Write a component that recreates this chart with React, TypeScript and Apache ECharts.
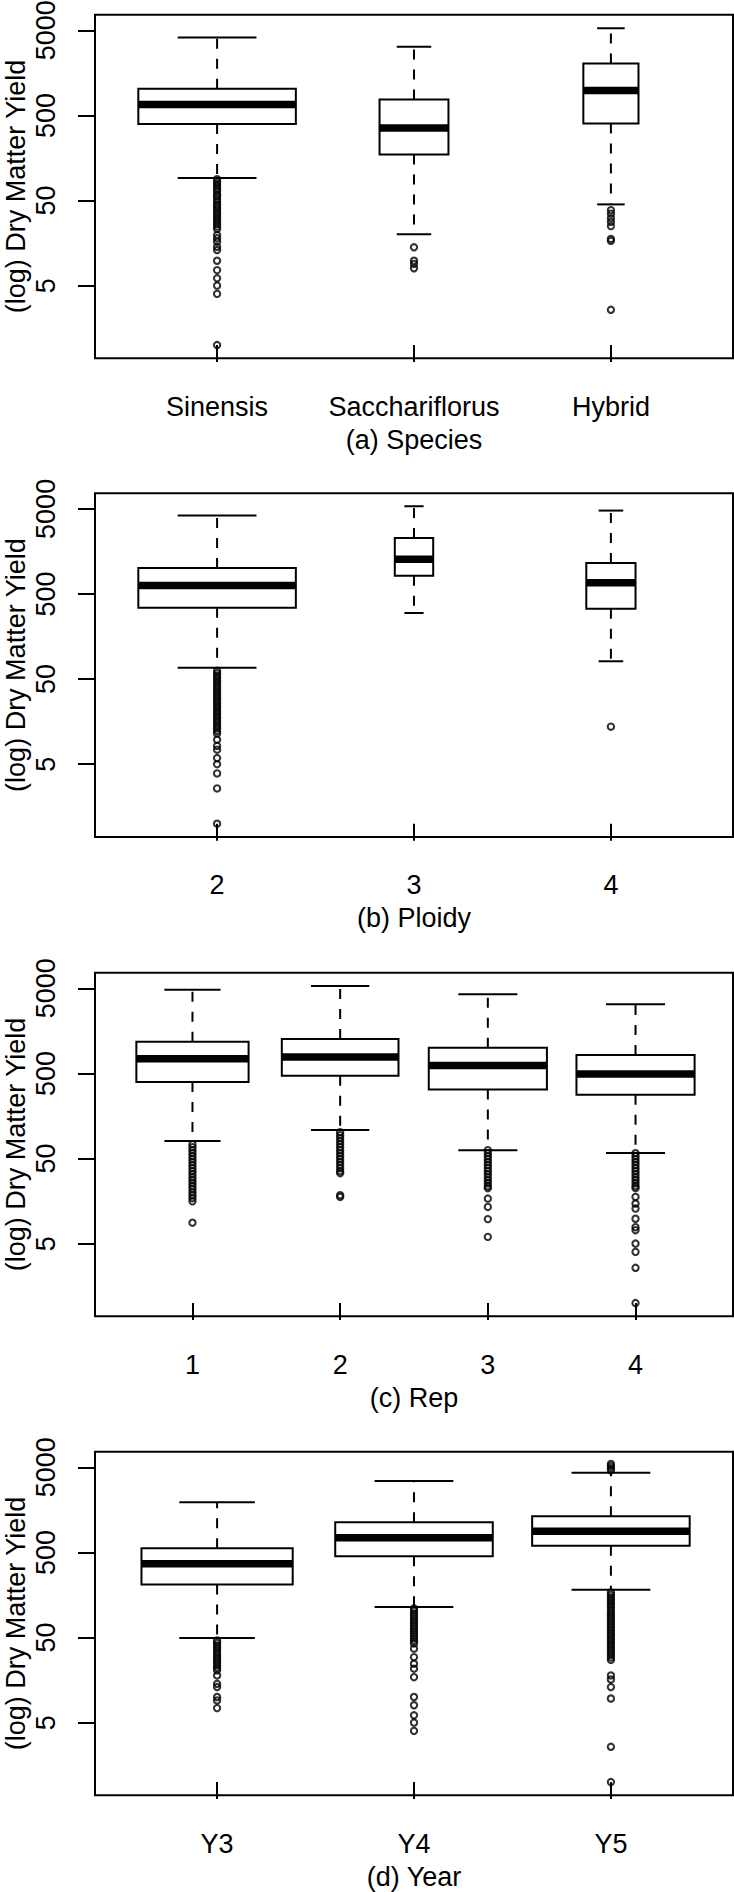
import React, { useEffect, useRef } from "react";
import * as echarts from "echarts";

// ---------- data (Dry Matter Yield, raw units) ----------
// stats per group: [lower whisker, Q1, median, Q3, upper whisker]
const speciesCategories = ["Sinensis", "Sacchariflorus", "Hybrid"];
const speciesStats = [
  [92, 395, 670, 1030, 4100],
  [20, 174, 356, 770, 3200],
  [45, 402, 980, 2030, 5280],
];
const speciesBoxWidths = [0.8, 0.35, 0.28];
const speciesOutliers = [
  [89, 83, 78, 73, 68, 64, 59, 56, 52, 48.5, 45, 42.4, 39.6, 37, 34.6, 32.4, 30.3, 28.3, 26.4, 24.7, 23.1, 19.6, 18, 16.4, 14.3, 13.1, 9.8, 7.6, 6.1, 5.0, 4.0, 1.0],
  [14.1, 9.8, 9.0, 8.0],
  [38.5, 35, 31, 28, 25, 17.7, 16.8, 2.6],
];

const ploidyCategories = ["2", "3", "4"];
const ploidyStats = [
  [68, 345, 631, 1010, 4170],
  [299, 820, 1276, 2280, 5370],
  [81, 336, 679, 1158, 4775],
];
const ploidyBoxWidths = [0.8, 0.195, 0.25];
const ploidyOutliers = [
  [62.6, 58.5, 54.7, 51.1, 47.8, 44.6, 41.7, 39, 36.4, 34, 31.8, 29.7, 27.8, 26, 24.3, 22.7, 21.2, 19.8, 18.5, 17.3, 16.2, 15.1, 14.1, 13.2, 12.3, 11.5, 9.7, 8.2, 7.4, 5.9, 5.0, 3.9, 2.6, 1.0],
  [],
  [13.8],
];

const repCategories = ["1", "2", "3", "4"];
const repStats = [
  [80.5, 395, 743, 1178, 4800],
  [108, 469, 778, 1267, 5320],
  [62.6, 324, 621, 1000, 4250],
  [58, 280, 491, 820, 3243],
];
const repBoxWidths = [0.76, 0.79, 0.8, 0.8];
const repOutliers = [
  [73.6, 68, 62.7, 57.7, 53.2, 49.1, 45.2, 41.7, 38.5, 35.5, 32.7, 30.1, 27.8, 25.6, 23.6, 21.8, 20, 18.5, 17.1, 15.7, 8.8],
  [102, 94, 86.6, 79.8, 73.6, 68, 62.7, 57.7, 53.2, 49.1, 45.2, 41.7, 38.5, 35.5, 33.6, 18.5, 17.7],
  [62.7, 57.7, 53.2, 49.1, 45.2, 41.7, 38.5, 35.5, 32.7, 30.1, 27.8, 25.6, 23.6, 22.4, 16.9, 13.5, 9.7, 6.0],
  [57.7, 53.2, 49.1, 45.2, 41.7, 38.5, 35.5, 32.7, 30.1, 27.8, 25.6, 23.6, 22.4, 17.7, 14.8, 12.9, 9.8, 7.8, 7.2, 5.0, 4.0, 2.6, 1.0],
];

const yearCategories = ["Y3", "Y4", "Y5"];
const yearStats = [
  [49.2, 210, 367, 560, 1941],
  [114, 451, 741, 1130, 3461],
  [182, 597, 887, 1330, 4300],
];
const yearBoxWidths = [0.768, 0.8, 0.8];
const yearOutliers = [
  [46.2, 43.2, 40.4, 37.8, 35.3, 33, 30.8, 28.8, 26.9, 25.2, 23.5, 22, 20.6, 17.9, 14.3, 13.1, 10, 9.1, 7.4],
  [110, 103, 96, 89.6, 83.8, 78.3, 73.1, 68.4, 63.9, 59.7, 55.8, 52.2, 48.8, 45.6, 42.6, 37, 29.4, 24.6, 21.5, 17.1, 10, 8, 6.1, 5.0, 4.0],
  [5480, 5200, 4900, 4600, 169, 158, 148, 138, 129, 121, 113, 105, 98.6, 92, 86, 80.5, 75.2, 70.3, 65.7, 61.4, 57.4, 53.7, 50.1, 46.9, 43.8, 41, 38.3, 35.8, 33.4, 31.3, 29.2, 27.3, 17.9, 16.1, 13.1, 9.6, 2.6, 1.0],
];

const yTickLabels = [5, 50, 500, 5000];
const yAxisTitle = "(log) Dry Matter Yield";

const panels = [
  { title: "(a) Species", cats: speciesCategories, stats: speciesStats, widths: speciesBoxWidths, outliers: speciesOutliers },
  { title: "(b) Ploidy", cats: ploidyCategories, stats: ploidyStats, widths: ploidyBoxWidths, outliers: ploidyOutliers },
  { title: "(c) Rep", cats: repCategories, stats: repStats, widths: repBoxWidths, outliers: repOutliers },
  { title: "(d) Year", cats: yearCategories, stats: yearStats, widths: yearBoxWidths, outliers: yearOutliers },
];

// ---------- layout / style ----------
const W = 734;
const H = 1892;
const GRID_LEFT = 95;
const GRID_WIDTH = 638;
const GRID_HEIGHT = 343.6;
const GRID_TOPS = [14.7, 493.3, 972.7, 1451.7];
const Y_MIN = -0.155;
const Y_MAX = 3.882;
const FONT = "'Liberation Sans', Arial, Helvetica, sans-serif";
const FS = 27;

const lg = (v: number) => Math.log10(v);

function buildOption() {
  const textStyle = { color: "#000", fontSize: FS, fontFamily: FONT };
  const yTickVals = yTickLabels.map(lg);
  const grid: any[] = [];
  const xAxis: any[] = [];
  const yAxis: any[] = [];
  const series: any[] = [];

  panels.forEach((p, i) => {
    const n = p.cats.length;
    const m = 0.5 + 0.04 * n;
    const xVals = p.cats.map((_, j) => j + 1);
    grid.push({
      left: GRID_LEFT,
      top: GRID_TOPS[i],
      width: GRID_WIDTH,
      height: GRID_HEIGHT,
      show: true,
      borderColor: "#000",
      borderWidth: 2,
      backgroundColor: "transparent",
      containLabel: false,
      outerBoundsMode: "none",
    });
    xAxis.push({
      type: "value",
      gridIndex: i,
      min: 1 - m,
      max: n + m,
      axisLine: { show: false },
      splitLine: { show: false },
      axisTick: { show: true, customValues: xVals, length: 17, lineStyle: { color: "#000", width: 2 } },
      axisLabel: {
        show: true,
        customValues: xVals,
        formatter: (v: number) => p.cats[Math.round(v) - 1] ?? "",
        margin: 35,
        ...textStyle,
      },
      name: p.title,
      nameLocation: "middle",
      nameGap: 68,
      nameMoveOverlap: false,
      nameTextStyle: textStyle,
    });
    yAxis.push({
      type: "value",
      gridIndex: i,
      min: Y_MIN,
      max: Y_MAX,
      axisLine: { show: false },
      splitLine: { show: false },
      axisTick: { show: true, customValues: yTickVals, length: 17, lineStyle: { color: "#000", width: 2 } },
      axisLabel: {
        show: true,
        customValues: yTickVals,
        rotate: 90,
        formatter: (v: number) => String(Math.round(Math.pow(10, v))),
        margin: 36,
        ...textStyle,
      },
      name: yAxisTitle,
      nameLocation: "middle",
      nameGap: 66,
      nameMoveOverlap: false,
      nameTextStyle: textStyle,
    });

    const boxData = p.stats.map((s, j) => [j + 1, ...s.map(lg), p.widths[j]]);
    series.push({
      type: "custom",
      xAxisIndex: i,
      yAxisIndex: i,
      silent: true,
      clip: false,
      dimensions: ["x", "lo", "q1", "med", "q3", "hi", "w"],
      encode: { x: 0, y: [1, 2, 3, 4, 5] },
      data: boxData,
      renderItem: (params: any, api: any) => {
        const x = api.value(0);
        const pLo = api.coord([x, api.value(1)]);
        const pQ1 = api.coord([x, api.value(2)]);
        const pMd = api.coord([x, api.value(3)]);
        const pQ3 = api.coord([x, api.value(4)]);
        const pHi = api.coord([x, api.value(5)]);
        const half = api.size([api.value(6), 0])[0] / 2;
        const cx = pMd[0];
        const cap = half / 2;
        const solid = { stroke: "#000", lineWidth: 2, fill: null };
        const dashed = { stroke: "#000", lineWidth: 2, lineDash: [10, 10], fill: null };
        return {
          type: "group",
          children: [
            { type: "line", shape: { x1: cx, y1: pQ3[1], x2: cx, y2: pHi[1] }, style: dashed },
            { type: "line", shape: { x1: cx, y1: pQ1[1], x2: cx, y2: pLo[1] }, style: dashed },
            { type: "line", shape: { x1: cx - cap, y1: pHi[1], x2: cx + cap, y2: pHi[1] }, style: solid },
            { type: "line", shape: { x1: cx - cap, y1: pLo[1], x2: cx + cap, y2: pLo[1] }, style: solid },
            {
              type: "rect",
              shape: { x: cx - half, y: pQ3[1], width: 2 * half, height: pQ1[1] - pQ3[1] },
              style: { fill: "#fff", stroke: "#000", lineWidth: 2 },
            },
            {
              type: "line",
              shape: { x1: cx - half, y1: pMd[1], x2: cx + half, y2: pMd[1] },
              style: { stroke: "#000", lineWidth: 7.5, lineCap: "butt" },
            },
          ],
        };
      },
      z: 2,
    });

    const outData: number[][] = [];
    p.outliers.forEach((arr, j) => arr.forEach((v) => outData.push([j + 1, lg(v)])));
    series.push({
      type: "scatter",
      xAxisIndex: i,
      yAxisIndex: i,
      silent: true,
      symbol: "circle",
      symbolSize: 6.3,
      itemStyle: { color: "rgba(0,0,0,0)", borderColor: "#000", borderWidth: 2.1 },
      emphasis: { disabled: true },
      data: outData,
      z: 3,
    });
  });

  return {
    animation: false,
    backgroundColor: "#fff",
    textStyle: { fontFamily: FONT },
    grid,
    xAxis,
    yAxis,
    series,
  };
}

export default function App() {
  const ref = useRef<HTMLDivElement>(null);
  useEffect(() => {
    if (!ref.current) return;
    const chart = echarts.init(ref.current, null, { renderer: "svg", width: W, height: H });
    chart.setOption(buildOption() as any);
    return () => chart.dispose();
  }, []);
  return (
    <div
      ref={ref}
      style={{ position: "absolute", left: 0, top: 0, width: W, height: H, background: "#fff" }}
    />
  );
}
